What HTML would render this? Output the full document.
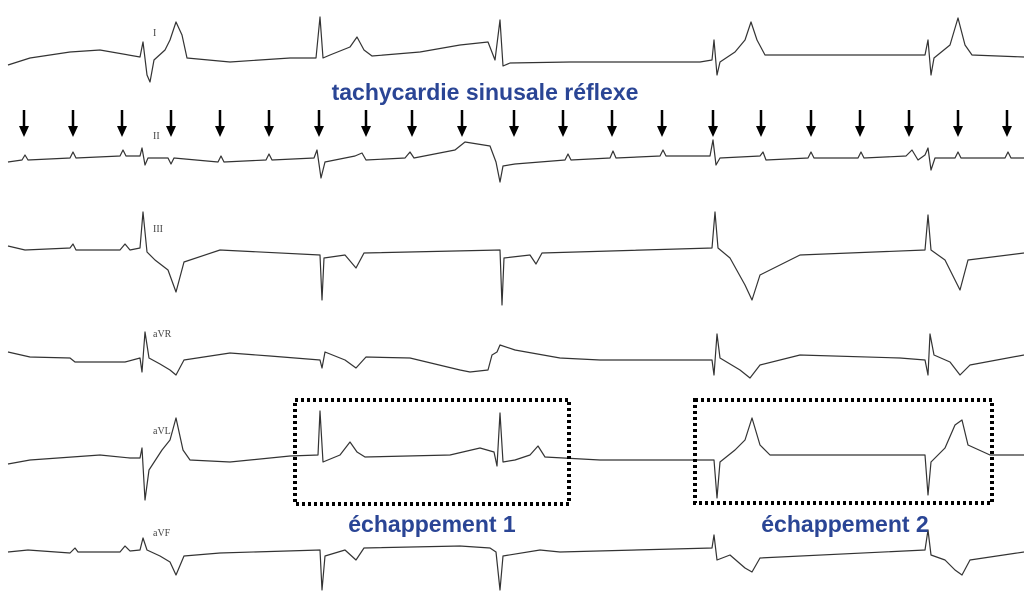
<!DOCTYPE html>
<html><head><meta charset="utf-8"><style>
html,body{margin:0;padding:0;background:#fff;}
svg{display:block}
.t{font-family:"Liberation Sans",sans-serif;font-weight:bold;fill:#2a4595;font-size:23px}
.l{font-family:"Liberation Serif",serif;font-size:10px;fill:#444}
</style></head><body>
<svg width="1024" height="609" viewBox="0 0 1024 609" xmlns="http://www.w3.org/2000/svg">
<defs>
<g id="a"><line x1="0" y1="110" x2="0" y2="128" stroke="#000" stroke-width="2.5"/><path d="M-5,126 L5,126 L0,137 Z" fill="#000"/></g>
</defs>
<g fill="none" stroke="#333" stroke-width="1.2" stroke-linejoin="round">
<path d="M8,65 L30,58 L70,52 L100,50 L140,57 L143,42 L147,75 L150,82 L154,60 L165,50 L170,40 L176,22 L182,35 L187,58 L230,62 L290,58 L316,58 L320,17 L323,58 L330,55 L350,47 L357,37 L364,50 L372,56 L420,52 L460,45 L488,42 L495,60 L500,20 L503,66 L510,63 L570,62 L620,62 L700,62 L712,60 L714,40 L717,75 L720,62 L735,52 L745,40 L751,22 L757,40 L765,55 L850,55 L925,55 L928,40 L931,75 L934,58 L950,45 L958,18 L965,45 L972,55 L1024,57"/>
<path d="M8,162 L22,160 L25,155 L28,160 L70,158 L73,152 L76,158 L120,156 L123,150 L126,156 L140,156 L142,148 L145,165 L148,158 L168,158 L171,164 L174,158 L218,162 L221,156 L224,162 L266,160 L269,154 L272,160 L314,158 L317,150 L321,178 L325,162 L355,156 L362,153 L366,160 L405,158 L410,152 L414,158 L455,150 L465,142 L490,146 L496,162 L500,182 L503,166 L515,164 L540,162 L565,160 L568,154 L571,160 L610,158 L613,151 L616,158 L660,156 L663,150 L666,156 L710,156 L713,140 L716,165 L720,158 L760,156 L763,152 L766,160 L808,158 L811,152 L814,158 L858,158 L861,152 L864,158 L906,156 L912,150 L918,160 L925,155 L928,148 L931,170 L935,158 L955,158 L958,152 L961,158 L1005,158 L1008,152 L1011,158 L1024,158"/>
<path d="M8,246 L25,250 L70,248 L73,244 L76,250 L120,250 L125,244 L130,250 L140,248 L143,212 L147,252 L155,260 L168,270 L176,292 L184,262 L220,250 L320,255 L322,300 L324,258 L345,255 L356,268 L364,253 L500,250 L502,305 L504,258 L530,255 L536,264 L542,253 L712,248 L715,212 L718,248 L730,258 L745,285 L752,300 L760,275 L800,255 L925,250 L928,215 L931,250 L945,260 L960,290 L968,260 L1024,253"/>
<path d="M8,352 L30,357 L70,358 L75,362 L125,362 L140,358 L142,372 L145,332 L149,358 L160,364 L170,370 L176,375 L184,360 L230,353 L270,356 L320,360 L322,368 L325,352 L345,360 L356,368 L366,357 L410,358 L460,370 L470,372 L488,370 L492,355 L497,352 L500,345 L515,350 L560,358 L600,360 L712,360 L714,375 L717,334 L720,358 L740,370 L750,378 L760,365 L800,355 L900,358 L925,360 L928,375 L930,334 L934,355 L950,362 L960,375 L970,365 L1024,355"/>
<path d="M8,464 L30,460 L100,455 L130,458 L140,458 L142,448 L145,500 L149,470 L162,450 L170,440 L176,418 L183,450 L190,460 L230,462 L290,456 L318,455 L320,411 L323,462 L340,455 L350,442 L357,452 L365,457 L450,455 L480,448 L494,452 L497,466 L500,413 L503,462 L515,460 L530,455 L538,446 L545,457 L600,460 L710,460 L714,460 L717,498 L720,462 L735,450 L745,440 L752,418 L760,445 L770,455 L850,455 L925,455 L928,495 L931,462 L945,448 L955,425 L962,420 L968,445 L990,455 L1024,455"/>
<path d="M8,552 L28,550 L70,553 L75,548 L78,552 L120,552 L125,546 L130,551 L140,550 L143,538 L147,550 L160,556 L170,562 L176,575 L184,556 L220,553 L320,550 L322,590 L325,556 L345,550 L356,560 L364,548 L460,546 L490,548 L496,552 L500,590 L503,556 L540,550 L560,552 L712,548 L714,535 L717,560 L730,555 L745,568 L752,572 L760,558 L925,550 L928,530 L931,555 L945,560 L955,570 L962,575 L970,560 L1024,552"/>
</g>
<g class="l">
<text x="153" y="36">I</text><text x="153" y="139">II</text><text x="153" y="232">III</text>
<text x="153" y="337">aVR</text><text x="153" y="434">aVL</text><text x="153" y="536">aVF</text>
</g>
<use href="#a" x="24"/><use href="#a" x="73"/><use href="#a" x="122"/><use href="#a" x="171"/><use href="#a" x="220"/><use href="#a" x="269"/><use href="#a" x="319"/><use href="#a" x="366"/><use href="#a" x="412"/><use href="#a" x="462"/><use href="#a" x="514"/><use href="#a" x="563"/><use href="#a" x="612"/><use href="#a" x="662"/><use href="#a" x="713"/><use href="#a" x="761"/><use href="#a" x="811"/><use href="#a" x="860"/><use href="#a" x="909"/><use href="#a" x="958"/><use href="#a" x="1007"/>
<g fill="none" stroke="#000" stroke-width="4" stroke-dasharray="3,3">
<rect x="295" y="400" width="274" height="104"/>
<rect x="695" y="400" width="297" height="103"/>
</g>
<text class="t" x="485" y="100" text-anchor="middle">tachycardie sinusale réflexe</text>
<text class="t" x="432" y="532" text-anchor="middle">échappement 1</text>
<text class="t" x="845" y="532" text-anchor="middle">échappement 2</text>
</svg>
</body></html>
